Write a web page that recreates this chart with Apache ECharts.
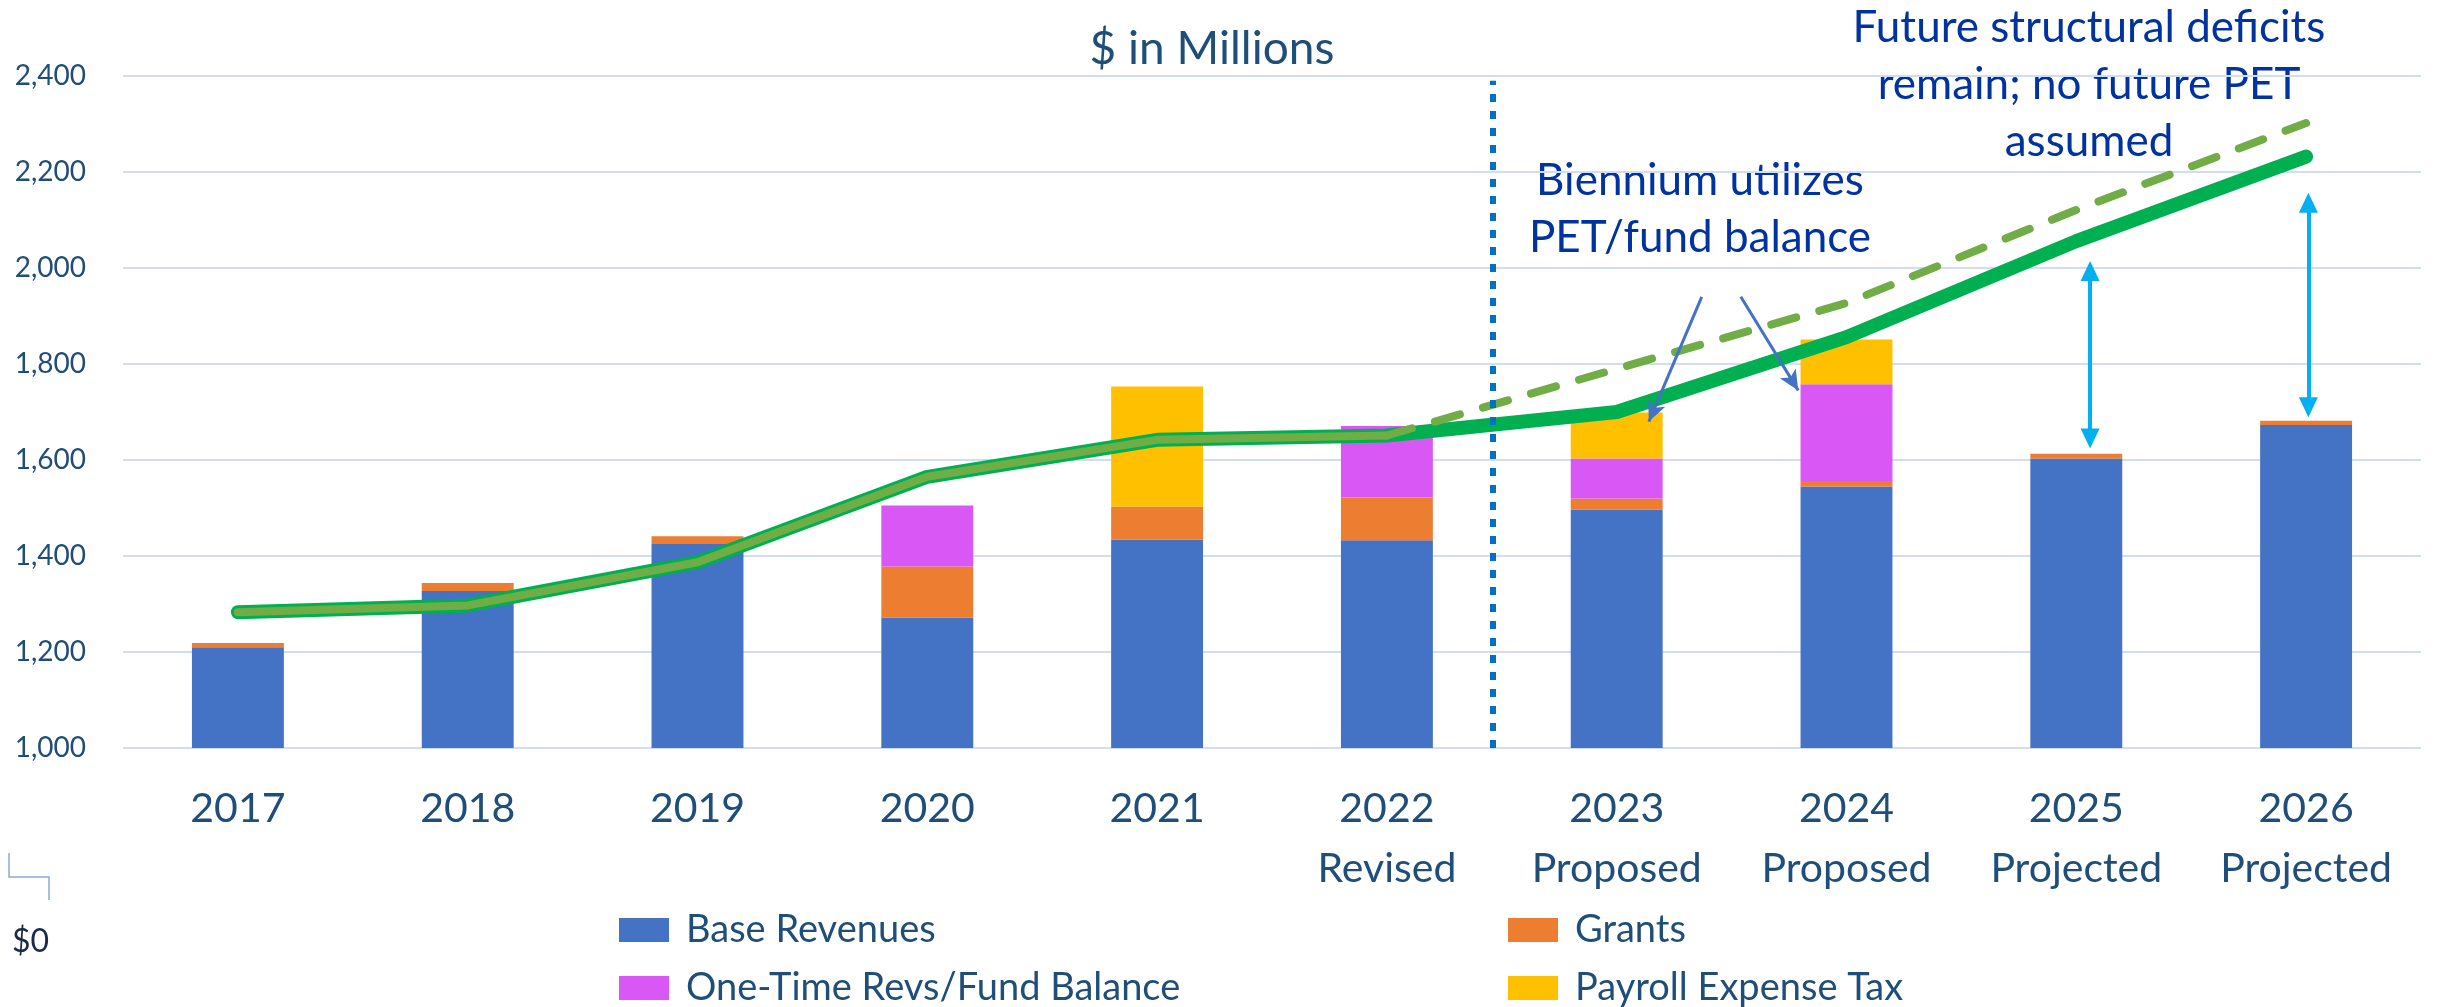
<!DOCTYPE html>
<html>
<head>
<meta charset="utf-8">
<script src="https://cdn.jsdelivr.net/npm/echarts@6/dist/echarts.min.js"></script>
<style>
  html, body { margin: 0; padding: 0; background: #fff; }
  #chart { width: 2440px; height: 1007px; }
</style>
</head>
<body>
<div id="chart"></div>
<script>
  // data ($ in millions)
  var years = ['2017', '2018', '2019', '2020', '2021', '2022', '2023', '2024', '2025', '2026'];
  var yearNotes = ['', '', '', '', '', 'Revised', 'Proposed', 'Proposed', 'Projected', 'Projected'];
  var baseRevenues = [1210, 1327, 1425, 1272, 1434, 1433, 1497, 1545, 1603, 1673];
  var grants = [9, 17, 16, 106, 69, 89, 23, 11, 10, 9];
  var oneTime = [0, 0, 0, 127, 0, 149, 83, 202, 0, 0];
  var payrollTax = [0, 0, 0, 0, 250, 0, 96, 93, 0, 0];
  var expenditures = [1283, 1297, 1387, 1565, 1642, 1651, 1700, 1856, 2056, 2232];
  var priorForecast = [null, null, null, null, null, 1651, 1790, 1927, 2121, 2302];
  var yMin = 1000, yMax = 2400, yStep = 200;

  var font = 'Lato, "Open Sans", sans-serif';
  var axisBlue = '#1F4E79';
  var noteBlue = '#0033A0';

  // actuals part of the spending line (drawn lighter inside the green one)
  var actualSpend = expenditures.map(function (v, i) { return i <= 5 ? v : null; });

  var chart = echarts.init(document.getElementById('chart'));

  var legendText = { color: axisBlue, fontFamily: font, fontSize: 38, lineHeight: 38, padding: [0, 0, 0, 12] };

  var option = {
      animation: false,
      grid: { left: 123, right: 19, top: 76, bottom: 259 },
      legend: [{
          data: ['Base Revenues', 'One-Time Revs/Fund Balance'],
          orient: 'vertical', left: 619, top: 911, padding: 0,
          icon: 'rect', itemWidth: 50, itemHeight: 24, itemGap: 20,
          textStyle: legendText, selectedMode: false
      }, {
          data: ['Grants', 'Payroll Expense Tax'],
          orient: 'vertical', left: 1508, top: 911, padding: 0,
          icon: 'rect', itemWidth: 50, itemHeight: 24, itemGap: 20,
          textStyle: legendText, selectedMode: false
      }],
      xAxis: [{
          type: 'category',
          data: years,
          axisLine: { show: false },
          axisTick: { show: false },
          axisLabel: {
              interval: 0,
              color: axisBlue, fontFamily: font, fontSize: 41, lineHeight: 60, margin: 31,
              formatter: function (v, i) { return yearNotes[i] ? v + '\n' + yearNotes[i] : v; }
          }
      }, {
          type: 'value', min: -0.5, max: 9.5, show: false
      }],
      yAxis: {
          type: 'value',
          min: yMin, max: yMax, interval: yStep,
          axisLine: { show: false },
          axisTick: { show: false },
          axisLabel: {
              color: axisBlue, fontFamily: font, fontSize: 28, margin: 37,
              formatter: function (v) { return v.toLocaleString('en-US'); }
          },
          splitLine: { lineStyle: { color: '#D0DDF5', width: 2 } }
      },
      series: [
          { name: 'Base Revenues', type: 'bar', stack: 'rev', barWidth: '40%', data: baseRevenues, itemStyle: { color: '#4472C4' } },
          { name: 'Grants', type: 'bar', stack: 'rev', data: grants, itemStyle: { color: '#ED7D31' } },
          { name: 'One-Time Revs/Fund Balance', type: 'bar', stack: 'rev', data: oneTime, itemStyle: { color: '#D957F5' } },
          { name: 'Payroll Expense Tax', type: 'bar', stack: 'rev', data: payrollTax, itemStyle: { color: '#FFC000' } },
          {
              name: 'Expenditures', type: 'line', data: expenditures, symbol: 'none', z: 3,
              lineStyle: { color: '#00B050', width: 14, cap: 'round', join: 'round' }
          },
          {
              name: 'Actual spending', type: 'line', data: actualSpend, symbol: 'none', z: 4,
              lineStyle: { color: '#70AD47', width: 8, cap: 'round', join: 'round' }
          },
          {
              name: 'Prior forecast', type: 'line', data: priorForecast, symbol: 'none', z: 4,
              lineStyle: { color: '#70AD47', width: 8, type: [26, 24], cap: 'round' }
          },
          {
              // annotation layer on the hidden value x axis
              name: 'notes', type: 'line', xAxisIndex: 1, data: [], silent: true,
              markLine: {
                  silent: true, animation: false,
                  label: { show: false },
                  emphasis: { disabled: true },
                  data: [
                      [{ coord: [5.46, 1000], symbol: 'none', lineStyle: { color: '#0070C0', width: 6, type: [8, 9] } },
                       { coord: [5.46, 2390], symbol: 'none' }],
                      [{ coord: [8.06, 1645], symbol: 'triangle', symbolSize: [19, 20], lineStyle: { color: '#00B0F0', width: 4, type: 'solid' } },
                       { coord: [8.06, 1994], symbol: 'triangle', symbolSize: [19, 20] }],
                      [{ coord: [9.01, 1710], symbol: 'triangle', symbolSize: [19, 20], lineStyle: { color: '#00B0F0', width: 4, type: 'solid' } },
                       { coord: [9.01, 2136], symbol: 'triangle', symbolSize: [19, 20] }],
                      [{ coord: [6.37, 1940], symbol: 'none', lineStyle: { color: '#4472C4', width: 3, type: 'solid' } },
                       { coord: [6.14, 1680], symbol: 'arrow', symbolSize: [14, 20] }],
                      [{ coord: [6.54, 1940], symbol: 'none', lineStyle: { color: '#4472C4', width: 3, type: 'solid' } },
                       { coord: [6.79, 1745], symbol: 'arrow', symbolSize: [14, 20] }]
                  ]
              }
          }
      ],
      graphic: [
          { type: 'text', x: 1212, y: 49, style: { text: '$ in Millions', fill: axisBlue, fontFamily: font, fontSize: 46, align: 'center', verticalAlign: 'middle' } },
          { type: 'text', x: 2089, y: 85, style: { text: 'Future structural deficits\nremain; no future PET\nassumed', fill: noteBlue, fontFamily: font, fontSize: 44, lineHeight: 57, align: 'center', verticalAlign: 'middle' } },
          { type: 'text', x: 1700, y: 209, style: { text: 'Biennium utilizes\nPET/fund balance', fill: noteBlue, fontFamily: font, fontSize: 44, lineHeight: 57, align: 'center', verticalAlign: 'middle' } },
          { type: 'text', x: 12, y: 942, style: { text: '$0', fill: '#1B2A4A', fontFamily: font, fontSize: 32, align: 'left', verticalAlign: 'middle' } },
          { type: 'polyline', shape: { points: [[9, 853], [9, 877], [49, 877], [49, 900]] }, style: { stroke: '#8EA9DB', lineWidth: 1.5, fill: null } }
      ]
  };

  chart.setOption(option);
</script>
</body>
</html>
